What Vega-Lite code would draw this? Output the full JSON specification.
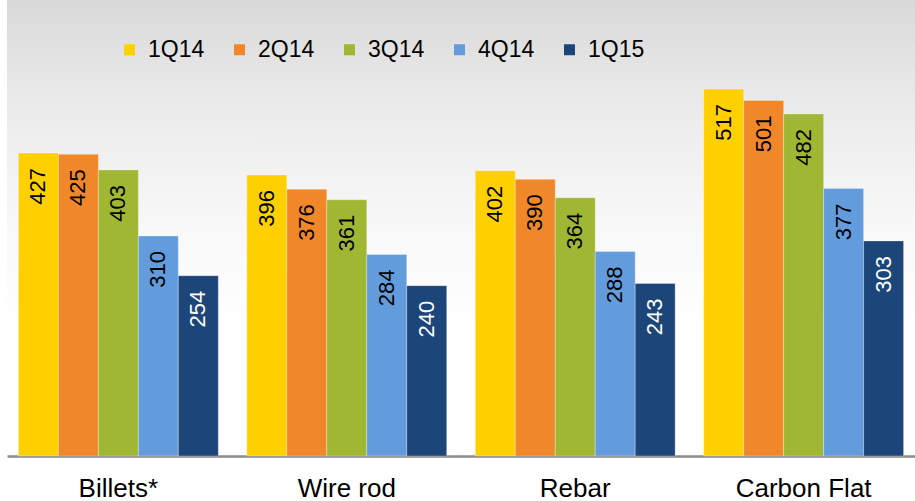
{
  "$schema": "https://vega.github.io/schema/vega-lite/v6.json",
  "width": 908,
  "height": 456,
  "padding": {"left": 7, "top": 0, "right": 0, "bottom": 0},
  "background": "white",
  "config": {
    "view": {
      "stroke": null,
      "fill": {
        "gradient": "linear",
        "x1": 0, "y1": 0, "x2": 0, "y2": 1,
        "stops": [
          {"offset": 0, "color": "#d9d9d9"},
          {"offset": 0.25, "color": "#ececec"},
          {"offset": 0.5, "color": "#f8f8f8"},
          {"offset": 0.72, "color": "#ffffff"},
          {"offset": 1, "color": "#ffffff"}
        ]
      }
    },
    "font": "Liberation Sans"
  },
  "data": {
    "values": [
      {"category": "Billets*", "series": "1Q14", "value": 427},
      {"category": "Billets*", "series": "2Q14", "value": 425},
      {"category": "Billets*", "series": "3Q14", "value": 403},
      {"category": "Billets*", "series": "4Q14", "value": 310},
      {"category": "Billets*", "series": "1Q15", "value": 254},
      {"category": "Wire rod", "series": "1Q14", "value": 396},
      {"category": "Wire rod", "series": "2Q14", "value": 376},
      {"category": "Wire rod", "series": "3Q14", "value": 361},
      {"category": "Wire rod", "series": "4Q14", "value": 284},
      {"category": "Wire rod", "series": "1Q15", "value": 240},
      {"category": "Rebar", "series": "1Q14", "value": 402},
      {"category": "Rebar", "series": "2Q14", "value": 390},
      {"category": "Rebar", "series": "3Q14", "value": 364},
      {"category": "Rebar", "series": "4Q14", "value": 288},
      {"category": "Rebar", "series": "1Q15", "value": 243},
      {"category": "Carbon Flat", "series": "1Q14", "value": 517},
      {"category": "Carbon Flat", "series": "2Q14", "value": 501},
      {"category": "Carbon Flat", "series": "3Q14", "value": 482},
      {"category": "Carbon Flat", "series": "4Q14", "value": 377},
      {"category": "Carbon Flat", "series": "1Q15", "value": 303}
    ]
  },
  "encoding": {
    "x": {
      "field": "category",
      "type": "nominal",
      "sort": ["Billets*", "Wire rod", "Rebar", "Carbon Flat"],
      "scale": {"paddingInner": 0.125, "paddingOuter": 0.05},
      "axis": {
        "title": null,
        "labelAngle": 0,
        "ticks": false,
        "grid": false,
        "domainColor": "#8a8a8a",
        "domainWidth": 2.5,
        "labelFont": "Liberation Sans",
        "labelFontSize": 26,
        "labelColor": "#000000",
        "labelPadding": 19
      }
    },
    "xOffset": {
      "field": "series",
      "type": "nominal",
      "sort": ["1Q14", "2Q14", "3Q14", "4Q14", "1Q15"],
      "scale": {"paddingInner": 0, "paddingOuter": 0}
    },
    "y": {
      "field": "value",
      "type": "quantitative",
      "scale": {"domain": [0, 642.5], "nice": false},
      "axis": null
    }
  },
  "layer": [
    {
      "mark": {"type": "bar", "stroke": "#ffffff", "strokeWidth": 0.6, "strokeOpacity": 0.5},
      "encoding": {
        "color": {
          "field": "series",
          "type": "nominal",
          "sort": ["1Q14", "2Q14", "3Q14", "4Q14", "1Q15"],
          "scale": {
            "domain": ["1Q14", "2Q14", "3Q14", "4Q14", "1Q15"],
            "range": ["#ffd000", "#f0882a", "#9fb733", "#639cdd", "#1c4679"]
          },
          "legend": {
            "title": null,
            "orient": "none",
            "direction": "horizontal",
            "legendX": 111,
            "legendY": 38,
            "symbolType": "square",
            "symbolSize": 121,
            "symbolStrokeWidth": 0,
            "labelFontSize": 23,
            "labelColor": "#000000",
            "labelOffset": 7,
            "columnPadding": 23
          }
        }
      }
    },
    {
      "mark": {"type": "text", "angle": 270, "align": "right", "baseline": "middle", "dx": -15, "fontSize": 22},
      "encoding": {
        "text": {"field": "value", "type": "quantitative"},
        "color": {
          "condition": {"test": "datum.series === '1Q15'", "value": "#ffffff"},
          "value": "#000000"
        }
      }
    }
  ]
}
